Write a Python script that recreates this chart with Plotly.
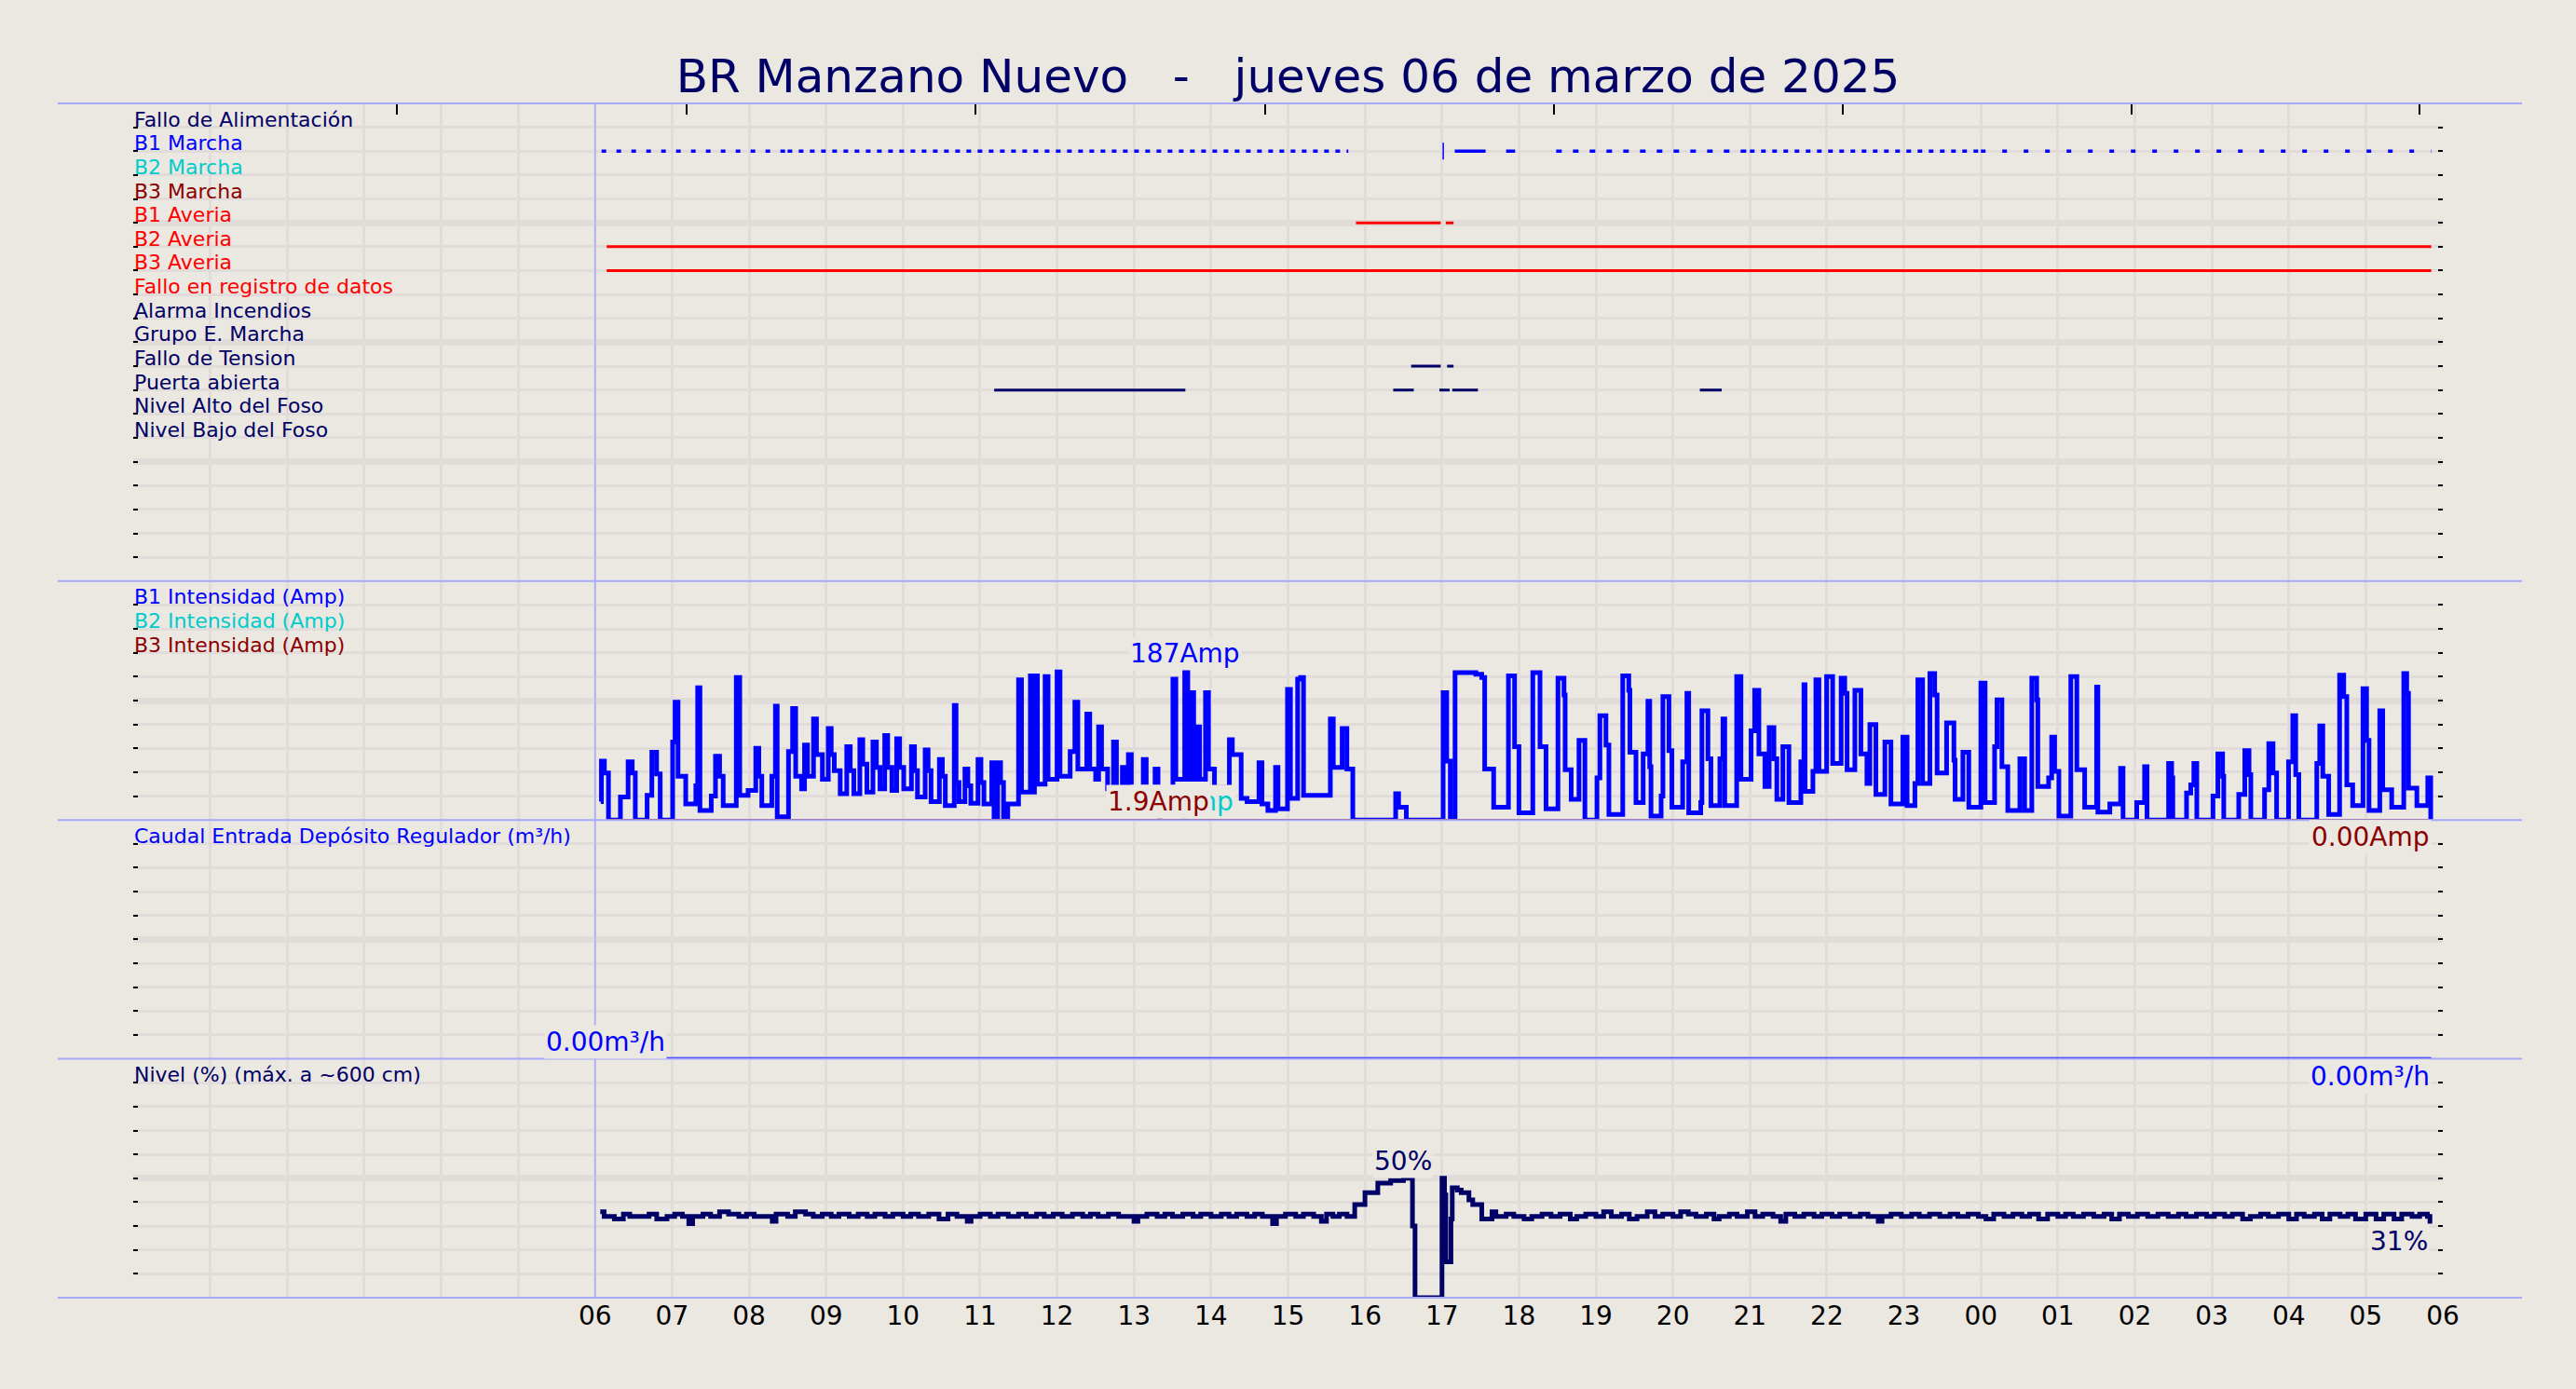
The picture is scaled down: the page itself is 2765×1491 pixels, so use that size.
import datetime as dt
import plotly.graph_objects as go

# ---------------- data ----------------
title_text = "BR Manzano Nuevo\u00a0\u00a0\u00a0-\u00a0\u00a0\u00a0jueves 06 de marzo de 2025"
day0 = dt.datetime(2025, 3, 6, 0, 0)
start = dt.datetime(2025, 3, 6, 6, 0)

status_labels = ["Fallo de Alimentación", "B1 Marcha", "B2 Marcha", "B3 Marcha",
                 "B1 Averia", "B2 Averia", "B3 Averia", "Fallo en registro de datos",
                 "Alarma Incendios", "Grupo E. Marcha", "Fallo de Tension",
                 "Puerta abierta", "Nivel Alto del Foso", "Nivel Bajo del Foso"]

# on-intervals, minutes after 06:00
b1_marcha_on = [(5, 150), (150, 587), (670, 694), (710, 717), (749, 900), (900, 1080), (1080, 1431)]
b1_marcha_blip = [661]
b1_averia_on = [(593, 659), (663, 669)]
b2_averia_on = [(9, 1431)]
b3_averia_on = [(9, 1431)]
fallo_tension_on = [(636, 659), (664, 669)]
puerta_on = [(311, 460), (622, 638), (658, 666), (668, 688), (861, 878)]

current_labels = ["B1 Intensidad (Amp)", "B2 Intensidad (Amp)", "B3 Intensidad (Amp)"]
flow_label = "Caudal Entrada Depósito Regulador (m³/h)"
level_label = "Nivel (%) (máx. a ~600 cm)"

b1_min = [4.4, 4.9, 7.2, 10.4, 19.7, 25.7, 28.9, 31.3, 40.5, 44.2, 47.9, 50.7,
          60.4, 62.3, 64.6, 70.6, 78.5, 79.9, 81.7, 90.5, 93.8, 97.0, 99.8, 110.0,
          112.7, 119.2, 125.2, 127.6, 129.9, 137.7, 140.5, 141.9, 150.7, 153.9, 156.3,
          160.9, 163.2, 165.5, 170.2, 172.5, 177.1, 181.7, 184.0, 186.4, 191.0, 196.1,
          198.8, 201.6, 206.3, 208.6, 211.8, 216.5, 219.2, 222.0, 225.7, 228.0, 231.3,
          235.0, 237.3, 240.5, 246.5, 248.9, 251.2, 257.2, 259.5, 261.8, 268.3, 270.6,
          272.9, 279.9, 281.3, 283.6, 288.2, 290.5, 292.8, 298.4, 300.7, 303.0, 309.1,
          310.9, 313.7, 316.0, 318.3, 321.6, 330.0, 332.3, 339.2, 340.5, 342.4, 344.7,
          350.7, 353.0, 360.0, 362.3, 370.2, 373.9, 376.2, 383.2, 385.5, 390.1, 392.4,
          394.7, 399.4, 404.0, 406.3, 410.9, 413.3, 415.6, 417.9, 427.2, 429.5, 436.4,
          438.7, 450.3, 452.6, 459.5, 461.9, 464.2, 466.5, 468.8, 471.1, 475.7, 478.0,
          482.7, 494.3, 496.6, 503.5, 508.1, 517.4, 519.7, 524.3, 530.3, 532.2, 539.6,
          541.9, 547.5, 549.8, 552.1, 573.0, 575.3, 582.2, 585.9, 590.5, 623.9, 626.2,
          632.2, 660.9, 663.7, 666.5, 670.2, 686.4, 691.0, 693.3, 700.3, 711.8, 716.6,
          720.0, 730.8, 736.4, 741.1, 750.4, 755.1, 756.0, 760.7, 766.8, 771.4, 780.8,
          783.1, 787.8, 790.1, 800.9, 805.6, 806.5, 811.2, 816.8, 820.5, 821.9, 822.9,
          830.8, 832.2, 836.9, 839.2, 847.6, 850.9, 852.3, 861.7, 862.6, 867.3, 869.6,
          876.6, 879.0, 880.4, 889.7, 893.0, 900.9, 903.7, 907.0, 911.7, 915.0, 918.7,
          921.0, 925.7, 930.4, 939.7, 942.1, 943.0, 949.1, 951.4, 953.8, 959.8, 964.5,
          971.1, 973.9, 975.7, 981.8, 986.5, 991.2, 993.5, 998.2, 1005.2, 1009.9, 1019.2,
          1022.5, 1028.6, 1030.9, 1034.6, 1040.3, 1044.0, 1045.9, 1053.3, 1059.0, 1059.9,
          1066.0, 1070.6, 1080.0, 1083.3, 1090.7, 1092.6, 1096.4, 1101.0, 1110.4, 1114.1,
          1119.7, 1123.5, 1124.4, 1132.8, 1135.2, 1137.5, 1140.8, 1150.1, 1154.8, 1160.9,
          1170.2, 1171.2, 1180.5, 1188.9, 1190.8, 1201.5, 1207.6, 1209.5, 1226.3, 1228.7,
          1229.6, 1240.3, 1243.6, 1246.0, 1248.3, 1260.9, 1264.7, 1268.4, 1269.3, 1281.0,
          1285.7, 1289.0, 1290.4, 1301.1, 1304.4, 1307.7, 1310.5, 1319.8, 1323.1, 1325.4,
          1327.8, 1341.8, 1344.1, 1346.5, 1351.1, 1359.6, 1362.8, 1365.2, 1369.8, 1377.8,
          1380.6, 1382.5, 1390.9, 1393.2, 1400.2, 1409.6, 1411.9, 1413.3, 1419.8, 1428.3,
          1430.6]
b1_amp = [23, 74, 59, 0, 29, 73, 59, 0, 31, 85, 58, 0,
          98, 148, 55, 20, 43, 166, 12, 30, 80, 55, 18, 179,
          31, 37, 90, 55, 18, 55, 143, 4, 86, 140, 55,
          39, 94, 55, 127, 82, 51, 115, 82, 62, 33, 92,
          62, 33, 101, 70, 35, 98, 66, 39, 106, 66, 37,
          102, 66, 39, 92, 62, 29, 88, 62, 23, 76, 55,
          18, 144, 47, 23, 64, 43, 21, 76, 47, 20, 72,
          0, 72, 47, 0, 20, 176, 35, 181, 35, 181, 45,
          180, 51, 186, 55, 86, 148, 64, 133, 64, 51, 117,
          64, 39, 98, 39, 66, 39, 82, 39, 76, 39, 64,
          39, 177, 51, 187, 51, 160, 51, 117, 51, 160, 64,
          41, 101, 82, 27, 23, 72, 20, 12, 66, 14, 164,
          27, 177, 179, 31, 127, 66, 115, 64, 0, 33, 16,
          0, 160, 74, 0, 185, 183, 179, 64, 16, 181, 92,
          9, 185, 92, 14, 178, 157, 63, 26, 100, 0, 53,
          131, 94, 7, 181, 163, 85, 22, 83, 149, 67, 5,
          30, 155, 87, 16, 73, 159, 9, 22, 137, 77, 18,
          77, 127, 18, 180, 51, 112, 163, 83, 42, 116, 77,
          26, 92, 22, 73, 170, 36, 61, 176, 61, 180, 71,
          178, 159, 63, 163, 83, 46, 120, 32, 98, 20, 104,
          18, 46, 176, 46, 184, 157, 59, 122, 75, 26,
          85, 16, 172, 22, 92, 151, 67, 12, 77, 12,
          178, 151, 42, 53, 104, 61, 5, 180, 63, 16,
          167, 10, 20, 65, 0, 22, 67, 0, 71, 53,
          0, 34, 44, 71, 0, 30, 83, 55, 0, 32,
          87, 57, 0, 38, 96, 59, 0, 73, 131, 57,
          0, 71, 118, 55, 7, 182, 155, 44, 18, 165,
          100, 12, 137, 38, 16, 184, 159, 40, 18, 53,
          0]

b2_min = [9, 458, 460, 1431]
b2_amp = [0, 1.9, 0, 0]
b3_min = [9, 439, 441, 1431]
b3_amp = [0, 1.9, 0, 0]

flow_min = [8, 1431]
flow_m3h = [0.0, 0.0]

level_min = [4, 7, 15, 22, 27, 35, 42, 48, 56, 62, 68, 73, 76, 84, 90, 97, 104, 112, 118, 124,
             138, 141, 150, 156, 164, 170, 177, 184, 190, 198, 205, 212, 218, 226, 232, 240,
             246, 252, 260, 268, 275, 282, 290, 293, 300, 308, 314, 322, 330, 336, 344, 350,
             357, 364, 372, 380, 386, 392, 400, 408, 415, 420, 423, 430, 438, 444, 450, 458,
             466, 472, 480, 488, 494, 500, 508, 514, 520, 528, 531, 538, 546, 552, 560, 566,
             570, 575, 580, 586, 592, 600, 610, 620, 630, 637, 639, 660, 662, 663, 666, 667,
             668, 672, 675, 681, 684, 691, 699, 702, 710, 716, 724, 730, 738, 745, 752, 760,
             765, 772, 780, 786, 792, 800, 806, 812, 820, 826, 832, 840, 846, 852, 858, 866,
             872, 876, 884, 890, 898, 904, 910, 918, 924, 928, 935, 942, 950, 956, 964, 970,
             978, 986, 992, 1000, 1003, 1010, 1018, 1026, 1032, 1040, 1048, 1056, 1062, 1070,
             1078, 1084, 1090, 1098, 1105, 1112, 1118, 1125, 1132, 1140, 1146, 1152, 1160,
             1168, 1176, 1182, 1188, 1195, 1202, 1210, 1218, 1226, 1234, 1240, 1248, 1256,
             1262, 1270, 1276, 1284, 1290, 1298, 1304, 1312, 1320, 1326, 1332, 1340, 1346,
             1352, 1360, 1366, 1372, 1380, 1388, 1394, 1402, 1408, 1416, 1422, 1428, 1430]
level_pct = [36, 34, 33, 35, 34, 34, 35, 33, 34, 35, 34, 31, 34, 35, 34, 36, 35, 34, 35, 34,
             32, 35, 34, 36, 35, 34, 35, 34, 35, 34, 35, 34, 35, 34, 35, 34,
             35, 34, 35, 33, 35, 34, 32, 34, 35, 34, 35, 34, 35, 34, 35, 34,
             35, 34, 35, 34, 35, 34, 35, 34, 34, 32, 34, 35, 34, 35, 34, 35,
             34, 35, 34, 35, 34, 35, 34, 35, 34, 31, 34, 35, 34, 35, 34, 32,
             35, 34, 35, 34, 39, 44, 48, 49, 50, 30, 0, 50, 43, 15, 15, 33,
             46, 45, 44, 41, 39, 33, 36, 34, 35, 34, 33, 34, 35, 34, 35, 33,
             34, 35, 34, 36, 34, 35, 33, 34, 36, 34, 35, 34, 36, 35, 34, 35,
             33, 34, 35, 34, 36, 34, 35, 34, 32, 35, 34, 35, 34, 35, 34, 35,
             34, 35, 34, 32, 34, 35, 34, 35, 34, 35, 34, 35, 34, 35,
             34, 33, 35, 34, 35, 34, 35, 33, 35, 34, 35, 34, 35,
             34, 35, 33, 35, 34, 35, 34, 35, 34, 35, 34, 35, 34,
             35, 34, 35, 33, 34, 35, 34, 35, 33, 35, 34, 35, 33,
             35, 34, 35, 33, 35, 33, 35, 33, 35, 34, 35, 34, 31]

top_tick_hours = [3.43, 7.19, 10.94, 14.70, 18.45, 22.21, 25.96, 29.70]

# ---------------- styles ----------------
BG = '#EBE7E1'
GRID = '#E1DCDA'
SEP = '#A8A8FA'
NAVY = '#000066'
BLUE = '#0000FF'
CYAN = '#00CCCC'
DRED = '#8B0000'
RED = '#FF0000'
FONT = 'DejaVu Sans'
status_colors = [NAVY, BLUE, CYAN, DRED, RED, RED, RED, RED, NAVY, NAVY, NAVY, NAVY, NAVY, NAVY]
b1_marcha_dash = ['5px,11px', '5px,7px', 'solid', 'solid', '6px,12px', '5px,7px', '5px,18px']


def T(m):
    return start + dt.timedelta(minutes=m)


def seg_xy(intervals, yv):
    xs, ys = [], []
    for a, b in intervals:
        xs += [T(a), T(b), None]
        ys += [yv, yv, None]
    return xs, ys


def row_y(name):
    return 19 - status_labels.index(name)


fig = go.Figure()

# ---- status panel (y4) ----
for (a, b), dash in zip(b1_marcha_on, b1_marcha_dash):
    xs, ys = seg_xy([(a, b)], row_y("B1 Marcha"))
    fig.add_trace(go.Scatter(x=xs, y=ys, mode='lines', yaxis='y4',
                             line=dict(color=BLUE, width=3.5, dash=dash)))
for m in b1_marcha_blip:
    yv = row_y("B1 Marcha")
    fig.add_trace(go.Scatter(x=[T(m), T(m)], y=[yv - 0.35, yv + 0.35], mode='lines', yaxis='y4',
                             line=dict(color=BLUE, width=1.5)))
for name, iv, col in [("B1 Averia", b1_averia_on, RED), ("B2 Averia", b2_averia_on, RED),
                      ("B3 Averia", b3_averia_on, RED), ("Fallo de Tension", fallo_tension_on, NAVY),
                      ("Puerta abierta", puerta_on, NAVY)]:
    xs, ys = seg_xy(iv, row_y(name))
    fig.add_trace(go.Scatter(x=xs, y=ys, mode='lines', yaxis='y4',
                             line=dict(color=col, width=3)))

# ---- currents (y3) ----
fig.add_trace(go.Scatter(x=[T(m) for m in b1_min], y=b1_amp, mode='lines', yaxis='y3',
                         line=dict(color=BLUE, width=5, shape='hv')))
fig.add_trace(go.Scatter(x=[T(m) for m in b2_min], y=b2_amp, mode='lines', yaxis='y3',
                         line=dict(color=CYAN, width=2, shape='hv')))
fig.add_trace(go.Scatter(x=[T(m) for m in b3_min], y=b3_amp, mode='lines', yaxis='y3',
                         line=dict(color=DRED, width=2.5, shape='hv')))

# ---- flow (y2) ----
fig.add_trace(go.Scatter(x=[T(m) for m in flow_min], y=flow_m3h, mode='lines', yaxis='y2',
                         line=dict(color=BLUE, width=3.5, shape='hv')))

# ---- level (y) ----
fig.add_trace(go.Scatter(x=[T(m) for m in level_min], y=level_pct, mode='lines', yaxis='y',
                         line=dict(color=NAVY, width=5, shape='hv')))

# helper for the top tick axis
xr = [day0, day0 + dt.timedelta(hours=30)]
fig.add_trace(go.Scatter(x=xr, y=[None, None], mode='lines', xaxis='x2', yaxis='y4',
                         hoverinfo='skip'))

annotations = []
for i, (lab, col) in enumerate(zip(status_labels, status_colors)):
    annotations.append(dict(x=0, xref='paper', y=19 - i, yref='y4', text=lab, showarrow=False,
                            xanchor='left', yanchor='bottom', yshift=-5, borderpad=0,
                            font=dict(size=22, color=col, family=FONT)))
for lab, col, yv in zip(current_labels, [BLUE, CYAN, DRED], [270, 240, 210]):
    annotations.append(dict(x=0, xref='paper', y=yv, yref='y3', text=lab, showarrow=False,
                            xanchor='left', yanchor='bottom', yshift=-5, borderpad=0,
                            font=dict(size=22, color=col, family=FONT)))
annotations.append(dict(x=0, xref='paper', y=90, yref='y2', text=flow_label, showarrow=False,
                        xanchor='left', yanchor='bottom', yshift=-5, borderpad=0,
                        font=dict(size=22, color=BLUE, family=FONT)))
annotations.append(dict(x=0, xref='paper', y=90, yref='y', text=level_label, showarrow=False,
                        xanchor='left', yanchor='bottom', yshift=-5, borderpad=0,
                        font=dict(size=22, color=NAVY, family=FONT)))


def fmt(v):
    if v == 0:
        return "0.00"
    if abs(v) >= 10:
        return f"{v:.0f}"
    return f"{v:.1f}"


def value_labels(mins, vals, unit, col, yref, int_fmt=False):
    k = max(range(len(vals)), key=lambda i: vals[i])
    f = (lambda v: f"{v:.0f}") if int_fmt else fmt
    out = [dict(x=T(mins[k]), y=vals[k], xref='x', yref=yref, text=f(vals[k]) + unit,
                showarrow=False, xanchor='center', yanchor='bottom', bgcolor=BG,
                font=dict(size=28, color=col, family=FONT)),
           dict(x=T(mins[-1]), y=vals[-1], xref='x', yref=yref, text=f(vals[-1]) + unit,
                showarrow=False, xanchor='right', yanchor='top', bgcolor=BG,
                font=dict(size=28, color=col, family=FONT))]
    return out


annotations += value_labels(b1_min, b1_amp, "Amp", BLUE, 'y3')
annotations += value_labels(b2_min, b2_amp, "Amp", CYAN, 'y3')
annotations += value_labels(b3_min, b3_amp, "Amp", DRED, 'y3')
annotations += value_labels(flow_min, flow_m3h, "m³/h", BLUE, 'y2')
annotations += value_labels(level_min, level_pct, "%", NAVY, 'y', int_fmt=True)

# separators
shapes = []
for yp in [0, 0.2, 0.4, 0.6, 1.0]:
    shapes.append(dict(type='line', xref='paper', yref='paper', x0=-0.0327, x1=1.0343,
                       y0=yp, y1=yp, line=dict(color=SEP, width=2), layer='above'))
shapes.append(dict(type='line', xref='x', yref='paper', x0=start, x1=start, y0=0, y1=1,
                   line=dict(color=SEP, width=1.5), layer='above'))

# x ticks
tick_dt = [day0 + dt.timedelta(hours=h) for h in range(31)]
tick_txt = ['' if t < start else t.strftime('%H') for t in tick_dt]


def yax(domain, rng, major, minor):
    return dict(domain=domain, range=rng, anchor='x', tickmode='linear', tick0=0, dtick=major,
                showticklabels=False, ticks='inside', ticklen=5, tickwidth=2, tickcolor='#000',
                mirror='ticks', showline=False, zeroline=False, showgrid=True,
                gridcolor=GRID, gridwidth=7, fixedrange=True,
                minor=dict(tick0=0, dtick=minor, ticks='inside', ticklen=5, tickwidth=2,
                           tickcolor='#000', showgrid=True, gridcolor=GRID, gridwidth=3))


fig.update_layout(
    width=2765, height=1491,
    paper_bgcolor=BG, plot_bgcolor=BG,
    margin=dict(l=143, r=143, t=111, b=98, pad=0),
    showlegend=False,
    font=dict(family=FONT, color='#000'),
    title=dict(text=title_text, x=0.5, xanchor='center', y=1 - 81 / 1491, yanchor='middle',
               font=dict(size=50, color=NAVY, family=FONT)),
    xaxis=dict(type='date', range=xr, tickmode='array', tickvals=tick_dt, ticktext=tick_txt,
               showgrid=True, gridcolor=GRID, gridwidth=3, ticks='', showline=False,
               zeroline=False, anchor='y', tickfont=dict(size=28, color='#000', family=FONT)),
    xaxis2=dict(type='date', overlaying='x', side='top', anchor='y4', range=xr,
                tickmode='array', tickvals=[day0 + dt.timedelta(hours=h) for h in top_tick_hours],
                showticklabels=False, ticks='inside', ticklen=12, tickwidth=1.5, tickcolor='#000',
                showgrid=False, zeroline=False, showline=False),
    yaxis=yax([0, 0.2], [0, 100], 50, 10),
    yaxis2=yax([0.2, 0.4], [0, 100], 50, 10),
    yaxis3=yax([0.4, 0.6], [0, 300], 150, 30),
    yaxis4=yax([0.6, 1.0], [0, 20], 5, 1),
    annotations=annotations,
    shapes=shapes,
)

fig.write_html("out.html", config={'displayModeBar': False},
               post_script="document.body.style.margin='0';document.body.style.overflow='hidden';")
